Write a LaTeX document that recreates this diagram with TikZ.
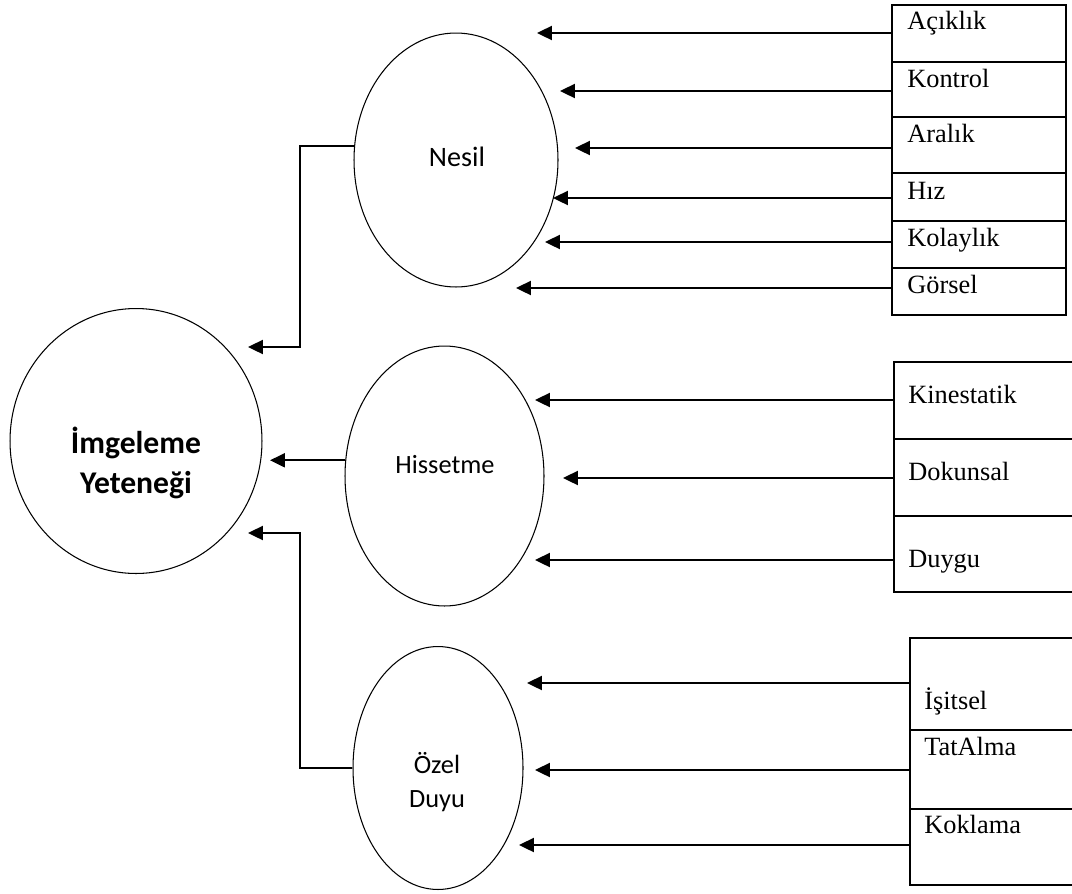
\documentclass[tikz,border=0pt]{standalone}
\usepackage{fontspec}
\setmainfont{Liberation Serif}
\newfontfamily\calfont{Carlito}
\usetikzlibrary{shapes.geometric,arrows.meta,fit}
\begin{document}
\begin{tikzpicture}[x=0.02cm,y=-0.02cm,
  oval/.style={draw,ellipse,line width=0.6pt,inner sep=0pt},
  cell/.style={draw,rectangle,line width=0.7pt,inner sep=0pt},
  conn/.style={line width=1.1pt,-{Triangle[length=8.5pt,width=8pt]}},
  boxtext/.style={font=\fontsize{15}{18}\selectfont,anchor=base west,inner sep=0pt},
  ctext/.style={font=\calfont\fontsize{15}{19.5}\selectfont,align=center,inner sep=0pt}]
\clip (0,0) rectangle (1072,893);
\fill[white] (0,0) rectangle (1072,893);

% ellipses
\node[oval,minimum width=5.04cm,minimum height=5.3cm] (img) at (136,441) {};
\node[oval,minimum width=4.08cm,minimum height=5.08cm] (nesil) at (456,160) {};
\node[oval,minimum width=3.98cm,minimum height=5.2cm] (hiss) at (444.5,476) {};
\node[oval,minimum width=3.4cm,minimum height=4.86cm] (ozel) at (438,768) {};

\node[ctext,font=\calfont\bfseries\fontsize{18}{23}\selectfont] (imgt) at (136,463) {İmgeleme\\Yeteneği};
\node[ctext,font=\calfont\fontsize{16}{19}\selectfont,anchor=base] (nesilt) at (457,166) {Nesil};
\node[ctext,anchor=base] (hisst) at (445,473) {Hissetme};
\node[ctext] (ozelt) at (437,782) {Özel\\Duyu};

% Nesil cells
\node[cell,fit={(892,5)(1066,62)}] (a1) {};
\node[cell,fit={(892,62)(1066,117)}] (a2) {};
\node[cell,fit={(892,117)(1066,173)}] (a3) {};
\node[cell,fit={(892,173)(1066,221)}] (a4) {};
\node[cell,fit={(892,221)(1066,268)}] (a5) {};
\node[cell,fit={(892,268)(1066,315)}] (a6) {};
\node[boxtext] (a1t) at (907,29) {Açıklık};
\node[boxtext] (a2t) at (907,87) {Kontrol};
\node[boxtext] (a3t) at (907,142) {Aralık};
\node[boxtext] (a4t) at (907,199) {Hız};
\node[boxtext] (a5t) at (907,246) {Kolaylık};
\node[boxtext] (a6t) at (907,293) {Görsel};

% Hissetme cells
\node[cell,fit={(894,362)(1090,439)}] (b1) {};
\node[cell,fit={(894,439)(1090,516)}] (b2) {};
\node[cell,fit={(894,516)(1090,592)}] (b3) {};
\node[boxtext] (b1t) at (908,403) {Kinestatik};
\node[boxtext] (b2t) at (908,480) {Dokunsal};
\node[boxtext] (b3t) at (908,567) {Duygu};

% Ozel cells
\node[cell,fit={(910,638)(1090,730)}] (c1) {};
\node[cell,fit={(910,730)(1090,809)}] (c2) {};
\node[cell,fit={(910,809)(1090,885)}] (c3) {};
\node[boxtext] (c1t) at (924,709) {İşitsel};
\node[boxtext] (c2t) at (924,755) {TatAlma};
\node[boxtext] (c3t) at (924,833) {Koklama};

% arrow tips
\coordinate (ta1) at (537,33);
\coordinate (ta2) at (560,91);
\coordinate (ta3) at (575,148);
\coordinate (ta4) at (553,198);
\coordinate (ta5) at (545,242);
\coordinate (ta6) at (516,288);
\coordinate (tb1) at (535,400);
\coordinate (tb2) at (563,478);
\coordinate (tb3) at (535,560);
\coordinate (tc1) at (527,683);
\coordinate (tc2) at (535,770);
\coordinate (tc3) at (519,845);

\draw[conn] (a1.west |- ta1) -- (ta1);
\draw[conn] (a2.west |- ta2) -- (ta2);
\draw[conn] (a3.west |- ta3) -- (ta3);
\draw[conn] (a4.west |- ta4) -- (ta4);
\draw[conn] (a5.west |- ta5) -- (ta5);
\draw[conn] (a6.west |- ta6) -- (ta6);
\draw[conn] (b1.west |- tb1) -- (tb1);
\draw[conn] (b2.west |- tb2) -- (tb2);
\draw[conn] (b3.west |- tb3) -- (tb3);
\draw[conn] (c1.west |- tc1) -- (tc1);
\draw[conn] (c2.west |- tc2) -- (tc2);
\draw[conn] (c3.west |- tc3) -- (tc3);

% to main circle
\coordinate (j1) at (300,347);
\coordinate (t1) at (248,347);
\coordinate (t2) at (270,461);
\coordinate (j3) at (300,533);
\coordinate (t3) at (248,533);
\draw[conn] (nesil.172) -| (j1) -- (t1);
\draw[conn] (hiss.171) -- (hiss.171 -| t2);
\draw[conn] (ozel.west) -| (j3) -- (t3);
\end{tikzpicture}
\end{document}
